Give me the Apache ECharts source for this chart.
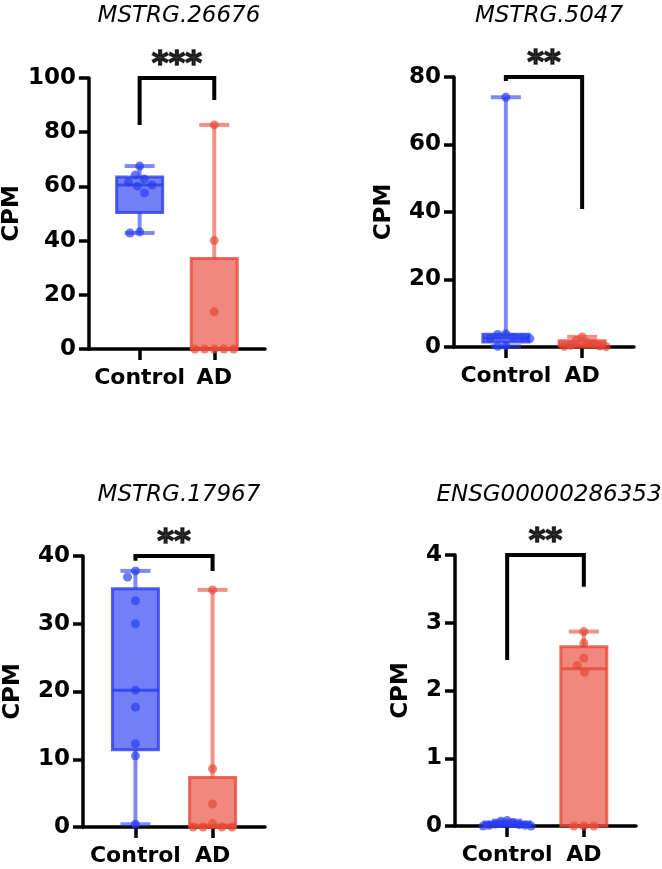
<!DOCTYPE html>
<html>
<head>
<meta charset="utf-8">
<script src="https://cdn.jsdelivr.net/npm/echarts@6/dist/echarts.min.js"></script>
<style>
html, body { margin: 0; background: #fff; }
#main { width: 662px; height: 869px; }
</style>
</head>
<body>
<div id="main"></div>
<script>
// groups and panel titles
var groups = ['Control', 'AD'];
var titles = ['MSTRG.26676', 'MSTRG.5047', 'MSTRG.17967', 'ENSG00000286353'];
var yMax = [100, 80, 40, 4];
var yStep = [20, 20, 10, 1];
var stars = ['***', '**', '**', '**'];

// CPM per sample
var control1 = [67.5, 64.2, 62.7, 61.6, 60.5, 60.1, 57.6, 43.2, 42.8];
var ad1 = [82.7, 40, 13.7, 0, 0, 0, 0, 0];
var control2 = [74, 3.9, 3.7, 2.8, 2.7, 2.6, 2.5, 0.4, 0.2];
var ad2 = [3.0, 2.0, 1.3, 1.1, 0.5, 0.3, 0.2, 0.1];
var control3 = [37.8, 36.9, 33.4, 30, 20.2, 17.7, 12.3, 10.5, 0.4];
var ad3 = [35, 8.6, 3.4, 0.5, 0, 0, 0, 0];
var control4 = [0.08, 0.07, 0.05, 0.03, 0.02, 0.01, 0.01, 0, 0];
var ad4 = [2.87, 2.7, 2.48, 2.37, 2.27, 0, 0, 0];

// significance brackets: top value, left leg end, right leg end
var bracketTop = [100, 80, 40, 4];
var bracketLeft = [82.7, 78.8, 39.3, 2.45];
var bracketRight = [91.9, 40.9, 37.8, 3.53];

var controls = [control1, control2, control3, control4];
var ads = [ad1, ad2, ad3, ad4];

var FONT = 'DejaVu Sans';
var baseColors = [[40, 60, 240], [232, 72, 56]];
function rgba(c, a) { return 'rgba(' + c[0] + ',' + c[1] + ',' + c[2] + ',' + a + ')'; }

// layout of the 4 panels
var grids = [
  { left: 83, top: 78, width: 182, height: 271 },
  { left: 454, top: 77, width: 180, height: 270 },
  { left: 83, top: 556, width: 182, height: 271 },
  { left: 455, top: 555, width: 181, height: 271 }
];
var titlePos = [[174, 0], [544, 0], [174, 479], [544, 479]];
var nameGaps = [60, 58, 58, 42];
var X_MIN = -0.68, X_MAX = 1.68;

// prism style percentile, (n+1)p
function pct(sorted, p) {
  var n = sorted.length, pos = (n + 1) * p;
  if (pos <= 1) return sorted[0];
  if (pos >= n) return sorted[n - 1];
  var lo = Math.floor(pos), f = pos - lo;
  return sorted[lo - 1] + f * (sorted[lo] - sorted[lo - 1]);
}
function boxStats(vals) {
  var s = vals.slice().sort(function (a, b) { return a - b; });
  return [s[0], pct(s, 0.25), pct(s, 0.5), pct(s, 0.75), s[s.length - 1]];
}

// simple beeswarm, offsets in px
function swarm(vals, pxY, d, maxHalf) {
  var order = vals.map(function (v, i) { return i; }).sort(function (a, b) { return vals[b] - vals[a]; });
  var placed = [], offs = [];
  order.forEach(function (i) {
    var y = vals[i] * pxY, bans = [];
    placed.forEach(function (p) {
      var dy = Math.abs(p[1] - y);
      if (dy < d) { var w = Math.sqrt(d * d - dy * dy); bans.push([p[0] - w, p[0] + w]); }
    });
    var cands = [0];
    bans.forEach(function (b) { cands.push(b[0], b[1]); });
    cands.sort(function (a, b) { return Math.abs(a) - Math.abs(b) || a - b; });
    var x = cands.find(function (c) {
      return bans.every(function (b) { return c <= b[0] + 1e-6 || c >= b[1] - 1e-6; });
    });
    placed.push([x, y]);
    offs[i] = x;
  });
  var m = Math.max.apply(null, offs.map(Math.abs));
  if (m > maxHalf) offs = offs.map(function (o) { return o * maxHalf / m; });
  return offs;
}

function boxItem(params, api) {
  var g = api.value(0);
  var pt = function (dim) { return api.coord([g, api.value(dim)]); };
  var lo = pt(1), q1 = pt(2), md = pt(3), q3 = pt(4), hi = pt(5);
  var cx = lo[0], c = baseColors[g];
  var hw = 23, cw = 15;
  function whisk() { return { stroke: rgba(c, 0.6), lineWidth: 4 }; }
  return {
    type: 'group',
    children: [
      { type: 'line', shape: { x1: cx, y1: hi[1], x2: cx, y2: q3[1] }, style: whisk() },
      { type: 'line', shape: { x1: cx, y1: q1[1], x2: cx, y2: lo[1] }, style: whisk() },
      { type: 'line', shape: { x1: cx - cw, y1: hi[1], x2: cx + cw, y2: hi[1] }, style: whisk() },
      { type: 'line', shape: { x1: cx - cw, y1: lo[1], x2: cx + cw, y2: lo[1] }, style: whisk() },
      { type: 'rect', shape: { x: cx - hw, y: q3[1], width: 2 * hw, height: q1[1] - q3[1] },
        style: { fill: rgba(c, 0.65), stroke: rgba(c, 0.8), lineWidth: 3 } },
      { type: 'line', shape: { x1: cx - hw, y1: md[1], x2: cx + hw, y2: md[1] },
        style: { stroke: rgba(c, 0.8), lineWidth: 3 } }
    ]
  };
}

var option = { animation: false, backgroundColor: '#fff', title: [], grid: [], xAxis: [], yAxis: [], series: [] };

for (var p = 0; p < 4; p++) {
  var gr = grids[p];
  option.grid.push(gr);
  option.title.push({
    text: titles[p], left: titlePos[p][0], top: titlePos[p][1], textAlign: 'center',
    textStyle: { fontFamily: FONT, fontSize: 23, fontStyle: 'italic', fontWeight: 'normal', color: '#000' }
  });
  option.xAxis.push({
    type: 'value', gridIndex: p, min: X_MIN, max: X_MAX,
    splitLine: { show: false },
    axisLine: { show: true, onZero: false, lineStyle: { color: '#000', width: 3.5 } },
    axisTick: { show: true, customValues: [0, 1], length: 11, lineStyle: { color: '#000', width: 3.5 } },
    axisLabel: {
      customValues: [0, 1], margin: 18, formatter: function (v) { return groups[Math.round(v)]; },
      fontFamily: FONT, fontSize: 22, fontWeight: 'bold', color: '#000'
    }
  });
  option.yAxis.push({
    type: 'value', gridIndex: p, min: 0, max: yMax[p], interval: yStep[p],
    name: 'CPM', nameLocation: 'middle', nameGap: nameGaps[p],
    nameTextStyle: { fontFamily: FONT, fontSize: 23, fontWeight: 'bold', color: '#000' },
    splitLine: { show: false },
    axisLine: { show: true, onZero: false, lineStyle: { color: '#000', width: 3.5 } },
    axisTick: { show: true, length: 10, lineStyle: { color: '#000', width: 3.5 } },
    axisLabel: { margin: 13, fontFamily: FONT, fontSize: 23, fontWeight: 'bold', color: '#000' }
  });

  var sets = [controls[p], ads[p]];
  option.series.push({
    type: 'custom', xAxisIndex: p, yAxisIndex: p, renderItem: boxItem,
    encode: { x: 0, y: [1, 2, 3, 4, 5] },
    data: sets.map(function (vals, g) { return [g].concat(boxStats(vals)); })
  });

  var pxY = gr.height / yMax[p], pxX = gr.width / (X_MAX - X_MIN);
  sets.forEach(function (vals, g) {
    var offs = swarm(vals, pxY, 10, 24);
    option.series.push({
      type: 'scatter', xAxisIndex: p, yAxisIndex: p, symbolSize: 9, clip: false,
      itemStyle: { color: rgba(baseColors[g], 0.85) },
      data: vals.map(function (v, i) { return [g + offs[i] / pxX, v]; })
    });
  });

  option.series.push({
    type: 'line', xAxisIndex: p, yAxisIndex: p, symbol: 'none', clip: false, silent: true,
    lineStyle: { color: '#000', width: 4, join: 'miter', cap: 'butt' },
    data: [[0, bracketLeft[p]], [0, bracketTop[p]], [1, bracketTop[p]], [1, bracketRight[p]]]
  });
  option.series.push({
    type: 'scatter', xAxisIndex: p, yAxisIndex: p, symbolSize: 1, clip: false, silent: true,
    itemStyle: { color: 'rgba(0,0,0,0)' },
    label: {
      show: true, position: 'top', distance: -3, formatter: stars[p],
      fontFamily: FONT, fontSize: 32, fontWeight: 'bold', color: '#000',
      textBorderColor: '#000', textBorderWidth: 1.5
    },
    data: [[0.5, bracketTop[p]]]
  });
}

var chart = echarts.init(document.getElementById('main'));
chart.setOption(option);
</script>
</body>
</html>
